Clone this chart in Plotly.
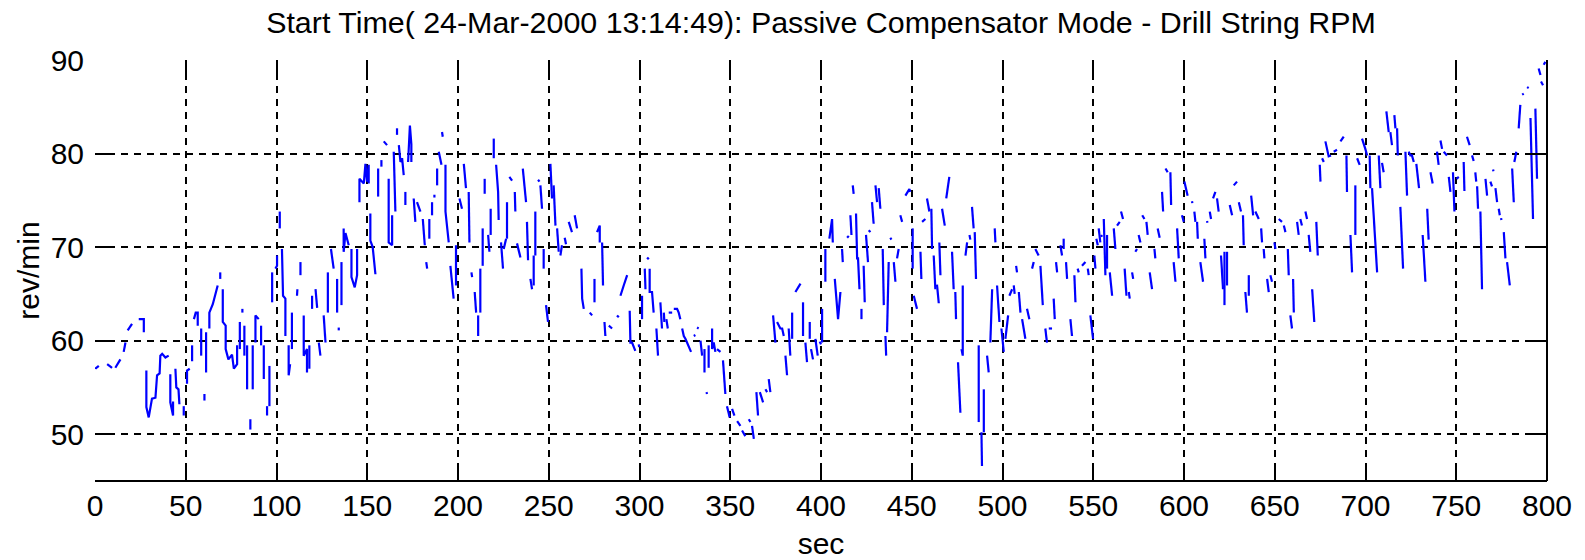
import plotly.graph_objects as go

TITLE = "Start Time( 24-Mar-2000 13:14:49): Passive Compensator Mode - Drill String RPM"
X_LABEL = "sec"
Y_LABEL = "rev/min"
x_ticks = [0, 50, 100, 150, 200, 250, 300, 350, 400, 450, 500, 550, 600, 650, 700, 750, 800]
y_ticks = [50, 60, 70, 80, 90]

# Drill string RPM trace, read piece by piece (None = visible gap in the line)
t_000 = [
    0.2, 2.1, None,
    6.7, 9.4, None,
    11.2, 14.0, None,
    15.8, 16.8, None,
    18.0, 20.4, None,
    24.1, 26.9, 26.9, None,
    28.3, 28.3, 29.6, 30.5, 31.4, 33.3, 34.2, 35.6, 36.0, 37.0, 38.8, 40.6, None,
    41.5, 41.5, 43.0, 43.0, None,
    44.3, 44.8, 46.0, 46.5, None,
    48.9, 48.9, None,
    50.7, 50.7, 52.2, None,
    53.5, 53.5, None,
    54.5, 55.5, 56.6, 56.6, None,
    58.5, 58.5, None,
    60.3, 60.3, None,
    61.2, 61.2, None,
    63.0, 63.0, 64.9, 66.3, 67.6, None,
    69.0, 69.0, None,
    70.4, 70.4, 72.0, 72.0, 73.5, 75.5, 76.5, 78.3, 78.3, None,
    79.8, 79.8, None,
    81.2, 81.2, None,
    82.3, 82.3, None,
    83.8, 83.8, None,
    85.6, 85.6, None,
    86.9, 86.9, None,
    88.4, 88.4, 90.2, None,
    91.5, 91.5, None,
    93.0, 93.0, None,
    94.8, 94.8, None,
    96.1, 96.1, None,
    97.6, 97.6, None,
    99.4, 100.3, 100.3, None,
    101.8, 101.8, None,
    103.0, 103.6, 104.9, 104.9, None,
    106.7, 106.7, 107.5, None,
    108.5, 108.5, None,
    111.3, 111.5, None,
    113.2, 113.2, None,
    115.0, 115.0, 116.8, 116.8, None,
    118.1, 118.1, None,
    119.6, 119.6, None,
    121.5, 122.4, None,
    123.3, 124.2, None,
    126.0, 127.0, None,
    128.3, 128.3, None,
    130.0, 131.5, None,
]
rpm_000 = [
    57.0, 57.3, None,
    57.5, 57.1, None,
    57.1, 58.0, None,
    58.8, 59.8, None,
    61.1, 61.8, None,
    62.3, 62.3, 60.9, None,
    56.8, 52.9, 51.8, 53.0, 53.8, 53.9, 56.3, 56.5, 58.4, 58.6, 58.2, 58.4, None,
    56.4, 53.4, 52.0, 53.5, None,
    57.0, 55.0, 54.8, 53.2, None,
    53.0, 52.0, None,
    55.4, 56.8, 57.0, None,
    57.8, 59.5, None,
    62.3, 63.0, 63.0, 61.6, None,
    61.3, 58.4, None,
    54.3, 53.6, None,
    60.9, 56.6, None,
    61.3, 63.0, 63.9, 65.0, 65.9, None,
    67.3, 66.6, None,
    65.5, 62.0, 61.6, 59.1, 58.0, 58.5, 57.0, 57.5, 59.5, None,
    62.0, 59.1, None,
    63.4, 63.0, None,
    61.6, 58.4, None,
    59.5, 54.8, None,
    51.6, 50.5, None,
    59.5, 54.8, None,
    59.8, 62.7, 62.3, None,
    61.6, 59.5, None,
    59.5, 55.9, None,
    53.0, 52.0, None,
    57.3, 53.0, None,
    67.3, 64.1, None,
    67.7, 68.0, 69.1, None,
    73.8, 72.0, None,
    69.8, 64.8, 64.5, 60.5, None,
    59.5, 56.3, 57.5, None,
    63.0, 59.1, None,
    64.8, 65.5, None,
    68.4, 67.0, None,
    62.7, 58.4, 59.1, 56.6, None,
    59.5, 57.0, None,
    64.8, 63.4, None,
    65.5, 63.5, None,
    59.8, 58.4, None,
    62.7, 59.8, None,
    67.3, 63.0, None,
    69.8, 67.7, None,
]

t_133 = [
    133.4, 133.4, None,
    134.3, 134.3, None,
    135.8, 135.8, None,
    137.0, 137.0, 138.0, 139.8, None,
    141.3, 141.3, 143.1, 144.4, 144.4, None,
    145.7, 145.7, 148.1, 149.0, 149.9, 150.8, 150.8, None,
    151.7, 151.7, 153.0, 154.5, None,
    156.0, 156.0, None,
    157.8, 157.8, None,
    159.1, 160.9, None,
    161.8, 161.8, 163.7, 163.7, None,
    164.6, 165.5, None,
    166.4, 166.4, None,
    167.4, 168.3, 169.2, 170.1, None,
    171.0, 171.0, None,
    172.5, 173.5, 174.3, 174.3, None,
    175.6, 176.5, None,
    177.4, 179.3, None,
    180.6, 181.7, None,
    182.5, 183.0, None,
    184.2, 184.2, None,
    185.7, 185.7, None,
    187.0, 187.0, None,
    188.5, 188.5, None,
    189.4, 190.9, None,
    191.2, 191.6, None,
    193.1, 193.1, 194.9, None,
    195.8, 196.7, 197.6, None,
    198.9, 198.9, None,
    200.8, 202.2, None,
    203.2, 204.4, None,
    205.9, 206.3, None,
    207.4, 207.8, None,
    209.2, 210.0, None,
    211.1, 211.1, None,
    212.3, 212.3, None,
    213.6, 213.6, None,
    214.7, 214.7, None,
    216.6, 217.3, None,
    218.0, 218.0, None,
    219.7, 219.7, None,
    221.0, 222.1, 222.4, None,
    223.7, 224.8, None,
    225.2, 226.5, None,
    227.0, 227.0, None,
    228.3, 229.8, None,
    231.3, 231.6, None,
    232.5, 234.4, None,
    235.7, 237.5, None,
    238.0, 238.6, None,
    239.9, 240.8, None,
    241.7, 241.7, None,
    242.6, 242.6, None,
    244.1, 244.9, None,
    245.4, 246.3, None,
    247.2, 247.2, None,
    248.5, 249.6, None,
    250.9, 251.8, None,
    252.7, 253.7, None,
    254.6, 255.5, None,
    256.4, 257.3, None,
    258.8, 259.5, None,
    261.0, 262.8, None,
    264.3, 265.6, None,
    268.0, 268.4, 269.3, None,
]
rpm_133 = [
    66.6, 63.0, None,
    61.4, 61.1, None,
    68.4, 63.8, None,
    72.0, 69.5, 71.5, 70.2, None,
    69.8, 66.8, 65.7, 67.0, 69.8, None,
    74.8, 77.3, 76.8, 78.9, 77.0, 78.8, 76.8, None,
    73.6, 70.7, 70.0, 67.1, None,
    78.4, 75.4, None,
    79.3, 78.6, None,
    81.3, 80.9, None,
    77.3, 70.5, 70.2, 73.4, None,
    80.2, 73.8, None,
    82.7, 82.0, None,
    80.9, 79.1, 79.5, 77.7, None,
    75.9, 74.5, None,
    79.1, 83.0, 81.0, 79.1, None,
    75.2, 72.7, None,
    74.8, 73.8, None,
    73.0, 70.2, None,
    68.4, 67.7, None,
    73.0, 70.9, None,
    74.8, 73.4, None,
    75.6, 75.3, None,
    78.4, 76.6, None,
    80.2, 78.8, None,
    82.3, 81.8, None,
    78.8, 73.8, 70.5, None,
    68.0, 65.9, 64.5, None,
    70.2, 65.9, None,
    75.2, 74.1, None,
    78.9, 76.3, None,
    75.9, 70.5, None,
    67.3, 66.8, None,
    65.2, 63.0, None,
    62.7, 60.5, None,
    67.7, 63.0, None,
    72.0, 68.0, None,
    77.3, 75.7, None,
    71.3, 69.5, None,
    74.1, 71.3, None,
    81.6, 79.5, None,
    78.8, 75.9, 72.9, None,
    70.5, 67.7, None,
    69.8, 70.9, None,
    74.8, 70.9, None,
    77.5, 77.1, None,
    75.9, 73.8, None,
    70.4, 68.9, None,
    78.4, 74.8, None,
    72.7, 68.6, None,
    66.6, 65.5, None,
    69.1, 65.9, None,
    73.8, 69.1, None,
    77.2, 77.0, None,
    76.6, 74.1, None,
    69.8, 67.7, None,
    63.8, 62.0, None,
    78.9, 75.2, None,
    76.6, 72.3, None,
    72.0, 69.5, None,
    69.1, 70.2, None,
    71.0, 70.3, None,
    72.7, 71.6, None,
    73.4, 72.0, None,
    67.7, 64.5, 63.4, None,
]

t_270 = [
    272.6, 273.9, None,
    275.2, 275.2, None,
    276.6, 278.1, 278.1, None,
    279.4, 279.9, None,
    280.7, 281.2, None,
    283.1, 284.9, None,
    287.6, 288.6, None,
    289.5, 290.4, 291.3, 293.2, None,
    294.6, 295.0, 295.9, 297.7, None,
    299.6, 299.8, None,
    301.4, 301.4, None,
    302.9, 303.3, None,
    304.2, 305.1, None,
    305.6, 305.6, 306.9, 307.8, None,
    309.3, 310.2, None,
    311.5, 312.4, None,
    313.4, 313.7, None,
    314.8, 315.6, None,
    316.1, 318.0, None,
    318.9, 320.7, 321.6, 322.5, None,
    323.5, 324.4, 325.3, 326.2, 326.6, 328.4, None,
    329.9, 330.8, None,
    331.7, 332.6, None,
    333.6, 334.5, None,
    335.8, 335.8, None,
    336.9, 337.2, None,
    338.1, 338.1, None,
    340.0, 340.0, 340.9, 341.8, None,
    342.7, 344.6, None,
    346.0, 347.3, None,
    348.2, 349.7, None,
    351.0, 352.3, None,
    353.8, 355.6, None,
    356.5, 358.3, None,
    360.2, 361.1, None,
    362.0, 363.0, None,
    364.4, 365.3, None,
    366.3, 368.1, None,
    369.4, 370.3, None,
    371.2, 372.1, None,
    373.6, 374.9, None,
    375.8, 377.6, 378.6, 379.5, None,
    380.4, 381.3, None,
    382.2, 383.1, None,
    384.1, 384.1, None,
    385.9, 388.7, None,
    390.1, 390.1, None,
    391.4, 392.3, None,
    393.8, 393.8, None,
    394.5, 395.6, None,
    396.9, 398.2, None,
    399.3, 400.0, None,
    400.6, 400.6, None,
]
rpm_270 = [
    63.0, 62.7, None,
    66.6, 64.1, None,
    71.6, 72.3, 70.5, None,
    70.5, 65.9, None,
    62.0, 60.5, None,
    61.6, 61.3, None,
    62.7, 62.5, None,
    64.8, 65.5, 65.9, 67.0, None,
    63.2, 59.8, 59.8, 58.9, None,
    59.6, 59.3, None,
    64.8, 62.3, None,
    67.7, 65.5, None,
    68.9, 68.7, None,
    67.7, 65.2, 65.2, 63.0, None,
    61.3, 58.4, None,
    64.1, 61.3, None,
    63.0, 62.0, None,
    62.3, 61.3, None,
    63.0, 63.0, None,
    63.4, 63.4, 63.0, 62.3, None,
    61.3, 60.5, 60.2, 59.8, 59.5, 58.8, None,
    60.5, 60.6, None,
    61.4, 61.3, None,
    60.0, 58.4, None,
    59.1, 56.6, None,
    54.5, 54.3, None,
    59.5, 57.1, None,
    61.3, 59.1, 59.8, 58.8, None,
    59.1, 58.8, None,
    57.9, 54.3, None,
    53.0, 51.8, None,
    52.7, 52.0, None,
    51.4, 50.9, None,
    50.4, 49.8, None,
    51.6, 51.3, None,
    50.9, 49.5, None,
    54.5, 52.0, None,
    54.5, 53.4, None,
    54.8, 54.5, None,
    55.9, 54.5, None,
    62.7, 59.8, None,
    62.0, 61.3, 61.3, 60.5, None,
    58.4, 56.3, None,
    61.3, 58.4, None,
    63.0, 60.2, None,
    65.2, 66.1, None,
    64.1, 60.5, None,
    59.8, 57.7, None,
    62.0, 60.2, None,
    59.1, 58.0, None,
    60.2, 58.4, None,
    59.9, 59.6, None,
    63.4, 59.8, None,
]

t_402 = [
    402.4, 402.4, None,
    404.6, 406.1, 406.5, None,
    407.6, 408.9, 409.4, 410.7, None,
    411.6, 412.0, None,
    414.4, 415.3, None,
    416.2, 416.8, None,
    417.5, 418.0, None,
    419.3, 419.9, 420.4, 421.2, None,
    422.3, 422.3, None,
    423.5, 424.1, None,
    424.8, 425.9, None,
    426.3, 427.2, None,
    428.1, 429.0, None,
    430.0, 430.9, None,
    431.8, 432.7, None,
    434.0, 434.6, None,
    435.5, 435.9, None,
    436.4, 437.3, None,
    438.2, 438.8, None,
    440.1, 441.0, None,
    441.9, 442.8, None,
    443.7, 444.7, None,
    446.5, 448.7, 449.2, None,
    450.5, 450.5, None,
    451.1, 452.9, None,
    454.8, 455.3, None,
    455.7, 457.5, None,
    458.4, 459.7, None,
    460.8, 461.2, None,
    462.1, 463.0, None,
    463.9, 464.9, None,
    465.2, 465.8, None,
    466.7, 468.2, None,
    469.0, 470.7, None,
    472.2, 473.1, None,
    474.0, 474.4, None,
    475.5, 476.8, None,
    477.4, 478.1, 478.1, None,
    479.6, 480.5, None,
    481.8, 482.3, None,
    483.2, 484.1, None,
    484.7, 485.4, None,
    486.9, 486.9, None,
    488.4, 488.7, None,
    489.7, 489.7, None,
    491.5, 492.4, None,
    493.3, 494.3, None,
    495.7, 496.1, None,
    497.0, 498.3, None,
    499.4, 500.7, None,
    501.6, 503.1, None,
    503.8, 505.3, None,
    506.2, 506.7, None,
    507.5, 508.0, None,
    509.0, 509.9, None,
    510.8, 512.6, None,
    513.5, 514.8, None,
    516.3, 517.2, None,
    518.1, 519.9, None,
    520.9, 522.2, None,
    523.6, 524.5, None,
    525.5, 527.3, None,
    528.2, 528.8, None,
    529.5, 530.1, None,
    531.9, 532.8, None,
    533.7, 533.7, None,
    535.0, 535.6, None,
]
rpm_402 = [
    69.8, 66.3, None,
    70.9, 73.0, 70.5, None,
    66.6, 62.7, 62.3, 65.2, None,
    69.8, 68.4, None,
    71.0, 71.2, None,
    73.4, 71.3, None,
    76.6, 75.7, None,
    73.6, 68.8, 68.8, 65.5, None,
    63.4, 62.3, None,
    68.0, 64.1, None,
    71.3, 68.4, None,
    71.8, 71.6, None,
    74.8, 72.5, None,
    76.6, 74.8, None,
    76.3, 74.1, None,
    69.8, 63.8, None,
    60.5, 58.4, None,
    60.9, 68.4, None,
    71.0, 70.8, None,
    68.4, 66.3, None,
    68.8, 69.8, None,
    73.4, 72.7, None,
    75.5, 76.2, 75.9, None,
    72.0, 67.7, None,
    64.8, 63.4, None,
    69.5, 66.6, None,
    72.7, 73.0, None,
    75.2, 73.8, None,
    74.1, 69.8, None,
    69.1, 65.5, None,
    66.0, 64.0, None,
    70.5, 67.0, None,
    74.1, 72.3, None,
    75.2, 77.5, None,
    69.5, 65.5, None,
    65.2, 62.3, None,
    57.7, 52.3, None,
    59.1, 58.4, 65.9, None,
    69.1, 70.5, None,
    71.3, 70.8, None,
    74.3, 72.0, None,
    71.6, 66.6, None,
    59.5, 51.3, None,
    50.2, 46.6, None,
    54.8, 50.2, None,
    58.4, 56.6, None,
    59.8, 65.5, None,
    72.0, 70.5, None,
    65.9, 62.0, None,
    61.3, 58.8, None,
    60.2, 62.7, None,
    64.8, 65.5, None,
    65.9, 65.0, None,
    68.0, 67.3, None,
    65.2, 63.0, None,
    62.3, 60.2, None,
    63.4, 62.3, None,
    67.7, 68.4, None,
    69.8, 69.1, None,
    68.0, 63.8, None,
    61.3, 59.8, None,
    61.3, 61.3, None,
    64.5, 62.3, None,
    68.4, 67.3, None,
    70.2, 69.1, None,
    70.9, 69.8, None,
    68.4, 66.6, None,
]

t_537 = [
    537.4, 538.3, None,
    539.6, 540.2, None,
    541.4, 542.0, None,
    543.8, 545.7, None,
    547.0, 547.5, None,
    548.4, 549.9, None,
    550.6, 551.2, None,
    551.7, 552.5, None,
    553.0, 553.9, None,
    554.3, 554.9, None,
    555.8, 556.7, None,
    557.6, 557.6, None,
    559.1, 560.4, None,
    561.3, 562.2, None,
    563.1, 564.6, None,
    565.3, 566.4, None,
    567.3, 568.3, None,
    569.6, 570.1, None,
    571.4, 572.0, None,
    573.2, 574.1, None,
    575.0, 576.0, None,
    577.0, 578.2, None,
    579.3, 580.0, None,
    581.1, 582.4, None,
    583.7, 584.2, None,
    585.5, 586.6, None,
    587.9, 588.5, None,
    589.8, 591.0, None,
    592.5, 592.9, None,
    594.3, 595.3, None,
    596.2, 597.1, None,
    598.9, 599.9, None,
    600.2, 602.0, None,
    604.4, 604.6, None,
    605.7, 606.3, None,
    607.2, 607.6, None,
    609.0, 610.5, None,
    611.2, 611.8, None,
    612.7, 612.9, None,
    614.2, 614.9, None,
    616.0, 617.3, None,
    618.2, 619.1, None,
    620.4, 621.5, None,
    622.3, 622.3, None,
    623.7, 623.7, None,
    625.2, 626.5, None,
    627.4, 629.2, None,
    630.2, 631.4, None,
    632.5, 632.9, None,
    633.8, 634.7, None,
    635.7, 635.7, None,
    637.0, 638.1, None,
    639.3, 641.2, None,
    642.5, 643.0, None,
    643.9, 644.3, None,
    645.8, 646.7, None,
    647.6, 648.5, None,
    649.8, 650.4, None,
    652.2, 654.0, None,
    655.0, 655.9, None,
    657.2, 657.7, None,
    658.6, 659.5, None,
    660.1, 660.5, None,
    662.3, 663.2, None,
    664.1, 665.0, None,
    666.9, 667.8, None,
    668.7, 669.6, None,
]
rpm_537 = [
    62.3, 60.5, None,
    67.0, 64.1, None,
    67.7, 67.3, None,
    68.0, 68.4, None,
    67.7, 67.0, None,
    62.7, 60.2, None,
    69.1, 67.7, None,
    70.9, 70.2, None,
    72.0, 70.5, None,
    71.3, 71.1, None,
    73.0, 67.0, None,
    71.3, 67.7, None,
    67.3, 64.8, None,
    72.0, 69.8, None,
    72.3, 72.7, None,
    73.8, 73.0, None,
    67.7, 64.8, None,
    65.2, 64.5, None,
    67.3, 66.6, None,
    69.5, 69.8, None,
    71.3, 70.5, None,
    73.4, 73.0, None,
    72.7, 71.3, None,
    67.3, 65.5, None,
    69.8, 68.8, None,
    72.0, 71.0, None,
    75.9, 73.8, None,
    78.4, 78.0, None,
    78.0, 74.5, None,
    68.4, 66.3, None,
    72.0, 68.8, None,
    73.4, 72.7, None,
    77.0, 75.5, None,
    74.9, 74.7, None,
    73.8, 72.7, None,
    72.7, 70.9, None,
    68.4, 66.3, None,
    70.9, 68.8, None,
    72.8, 72.6, None,
    73.8, 73.0, None,
    75.2, 75.9, None,
    75.2, 73.8, None,
    69.1, 65.5, None,
    69.5, 63.8, None,
    69.5, 65.9, None,
    74.5, 73.4, None,
    76.6, 77.0, None,
    74.8, 73.8, None,
    73.4, 70.2, None,
    65.2, 63.0, None,
    67.0, 64.8, None,
    75.5, 73.4, None,
    73.8, 73.0, None,
    72.0, 70.5, None,
    69.8, 68.8, None,
    66.6, 65.2, None,
    67.0, 66.3, None,
    70.5, 69.8, None,
    73.0, 72.7, None,
    72.3, 71.6, None,
    69.8, 67.0, None,
    62.7, 61.3, None,
    66.6, 63.0, None,
    72.7, 71.3, None,
    73.0, 72.3, None,
    73.8, 73.0, None,
    71.3, 69.5, None,
]

t_670 = [
    670.6, 671.8, None,
    672.9, 673.7, None,
    674.8, 675.2, None,
    676.1, 677.0, None,
    677.9, 678.8, 679.7, 681.0, None,
    682.5, 684.3, None,
    686.2, 688.0, None,
    689.5, 689.8, None,
    691.7, 692.6, None,
    694.4, 694.4, None,
    695.4, 696.8, None,
    698.1, 699.0, 699.9, 700.9, None,
    702.3, 702.7, None,
    703.6, 706.4, None,
    707.3, 708.2, None,
    709.1, 710.0, None,
    711.5, 712.8, None,
    713.7, 714.6, None,
    715.9, 716.5, None,
    717.4, 717.8, None,
    719.2, 720.7, None,
    722.0, 722.9, None,
    723.8, 724.7, 725.6, 726.6, None,
    728.0, 729.5, None,
    731.5, 733.0, None,
    734.0, 734.8, None,
    735.8, 737.0, None,
    739.4, 740.3, None,
    741.3, 742.2, None,
    743.1, 744.9, None,
    745.9, 746.8, None,
    748.2, 749.0, None,
    750.1, 751.4, None,
    754.1, 754.5, None,
    755.9, 757.4, None,
    758.7, 759.6, None,
    760.5, 761.0, None,
    761.5, 762.0, None,
    763.3, 764.2, None,
    766.1, 767.0, None,
    768.8, 769.7, None,
    770.3, 770.5, None,
    771.6, 772.5, None,
    773.4, 774.0, None,
    774.7, 774.9, None,
    776.2, 777.1, None,
    778.0, 779.5, None,
    780.8, 781.7, None,
    782.0, 783.1, None,
    784.4, 785.3, None,
    786.3, 787.2, None,
    789.0, 789.9, None,
    790.9, 791.8, 792.3, None,
    793.6, 794.5, None,
    795.4, 796.4, None,
    796.7, 797.8, None,
    798.2, 799.1, None,
]
rpm_670 = [
    65.5, 62.0, None,
    72.7, 69.1, None,
    78.8, 77.0, None,
    79.5, 79.1, None,
    81.3, 80.5, 79.7, 79.8, None,
    80.2, 80.4, None,
    81.3, 81.8, None,
    79.8, 75.9, None,
    71.3, 67.3, None,
    76.6, 71.3, None,
    79.5, 78.8, None,
    81.6, 80.9, 80.5, 79.8, None,
    79.8, 76.3, None,
    76.3, 67.3, None,
    79.8, 76.3, None,
    79.0, 78.0, None,
    84.5, 82.3, None,
    82.3, 80.9, None,
    84.1, 82.7, None,
    82.7, 79.8, None,
    74.3, 67.7, None,
    80.2, 75.5, None,
    80.2, 79.8, 79.8, 79.1, None,
    78.9, 76.3, None,
    71.3, 66.3, None,
    74.1, 70.8, None,
    78.0, 76.8, None,
    80.2, 78.8, None,
    81.4, 80.5, None,
    80.2, 79.8, None,
    77.5, 75.9, None,
    78.0, 73.8, None,
    77.3, 77.5, None,
    79.1, 76.0, None,
    81.8, 80.9, None,
    79.8, 79.2, None,
    78.0, 77.0, None,
    76.5, 74.1, None,
    73.8, 65.5, None,
    77.3, 75.5, None,
    77.0, 76.5, None,
    78.3, 78.1, None,
    76.3, 74.8, None,
    74.1, 73.4, None,
    73.1, 72.9, None,
    71.6, 68.8, None,
    68.4, 65.9, None,
    78.4, 74.8, None,
    79.1, 80.2, None,
    82.7, 85.2, None,
    86.3, 86.4, None,
    87.1, 87.0, None,
    83.8, 77.0, 73.0, None,
    84.8, 77.3, None,
    89.1, 88.4, None,
    87.7, 87.3, None,
    89.5, 89.8, None,
]

x_all, y_all = [], []
for ts, ys in [(t_000, rpm_000), (t_133, rpm_133), (t_270, rpm_270),
               (t_402, rpm_402), (t_537, rpm_537), (t_670, rpm_670)]:
    assert len(ts) == len(ys), (len(ts), len(ys))
    x_all.extend(ts)
    y_all.extend(ys)

FONT = "Liberation Sans, Arial, Helvetica, sans-serif"

fig = go.Figure(go.Scatter(
    x=x_all, y=y_all, mode="lines", connectgaps=False,
    line=dict(color="#0000FF", width=2.2), hoverinfo="skip",
))

axis_common = dict(
    ticks="inside", ticklen=17, tickwidth=2, tickcolor="black",
    mirror="ticks", showline=False, zeroline=False, automargin=False,
    showgrid=True, gridcolor="black", gridwidth=2, griddash="7px,6px",
    tickfont=dict(family=FONT, size=30, color="black"),
)

fig.update_layout(
    width=1585, height=560,
    margin=dict(l=95, r=38, t=60, b=79, autoexpand=False),
    paper_bgcolor="white", plot_bgcolor="white",
    showlegend=False,
    font=dict(family=FONT, size=30, color="black"),
    title=dict(text=TITLE, x=0.5, xref="paper", xanchor="center",
               y=1 - 22 / 560, yref="container", yanchor="middle",
               font=dict(family=FONT, size=30.4, color="black")),
    xaxis=dict(range=[0, 800], tickmode="array", tickvals=x_ticks,
               ticktext=[str(v) for v in x_ticks], ticklabelstandoff=4,
               title=dict(text=X_LABEL, standoff=14,
                          font=dict(family=FONT, size=30, color="black")),
               **axis_common),
    yaxis=dict(range=[45, 90], tickmode="array", tickvals=y_ticks,
               ticktext=[str(v) for v in y_ticks], ticklabelstandoff=10,
               title=dict(text=Y_LABEL, standoff=2,
                          font=dict(family=FONT, size=30, color="black")),
               **axis_common),
    shapes=[
        dict(type="line", xref="paper", yref="paper", x0=0, x1=1, y0=0, y1=0,
             line=dict(color="black", width=2), layer="above"),
        dict(type="line", xref="paper", yref="paper", x0=1, x1=1, y0=0, y1=1,
             line=dict(color="black", width=2), layer="above"),
    ],
)

fig.write_html("out.html")
